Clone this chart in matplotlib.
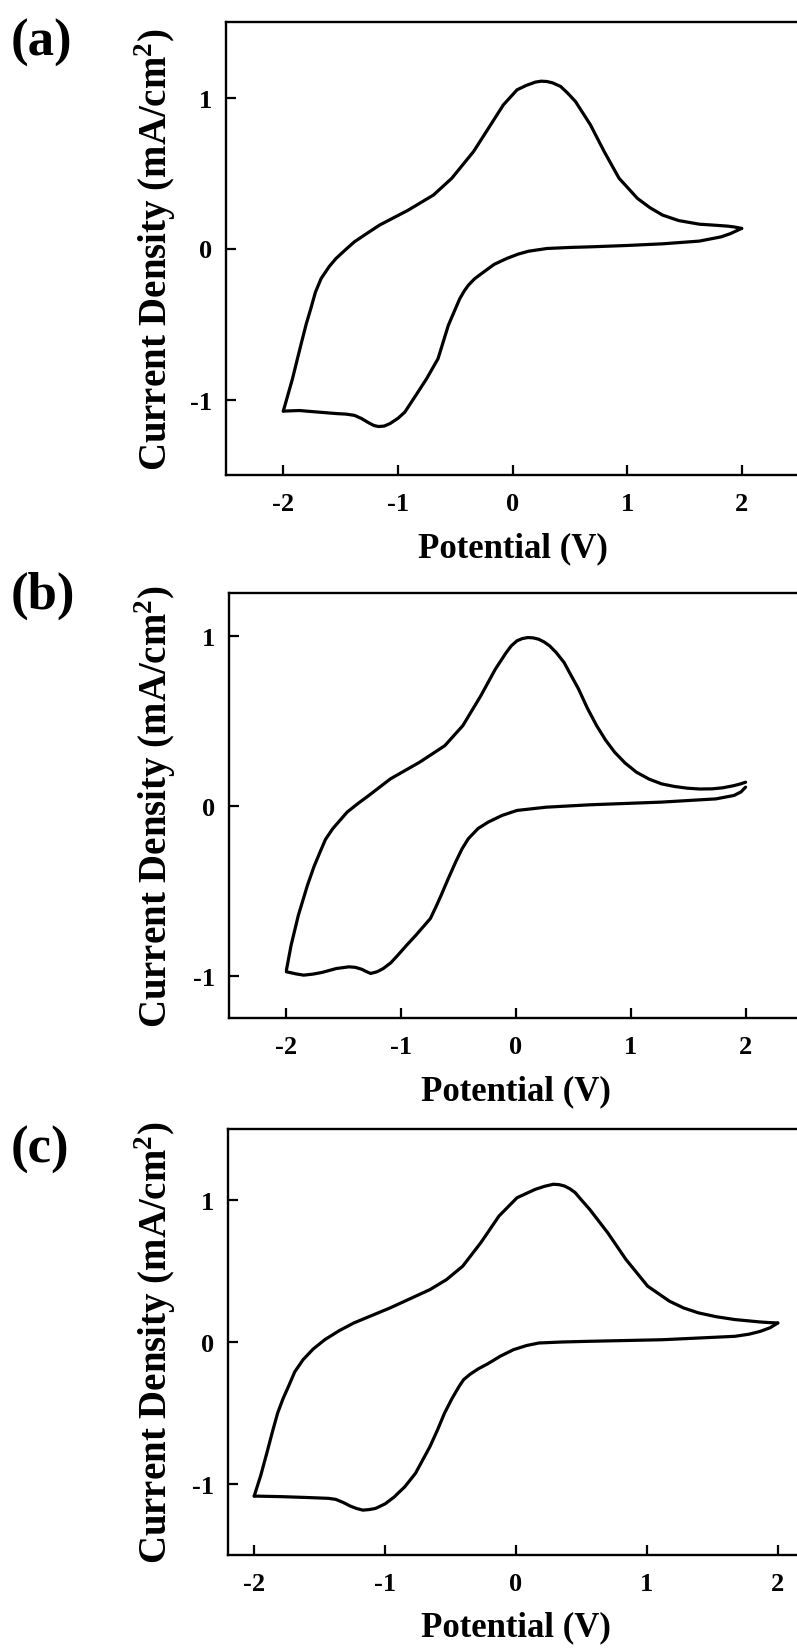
import matplotlib
matplotlib.use("Agg")
import matplotlib.pyplot as plt
from matplotlib.transforms import blended_transform_factory

plt.rcParams['font.family'] = ['Liberation Serif', 'DejaVu Serif']
plt.rcParams['font.weight'] = 'bold'
plt.rcParams['axes.unicode_minus'] = False
plt.rcParams['mathtext.fontset'] = 'custom'
plt.rcParams['mathtext.rm'] = 'Liberation Serif:bold'
plt.rcParams['mathtext.bf'] = 'Liberation Serif:bold'

# ---------------- data ----------------
# Panel (a): forward scan (lower branch) then reverse scan (upper branch)
a_fwd_V = [-2.0, -1.86, -1.75, -1.54, -1.45, -1.38, -1.32, -1.26, -1.21, -1.17, -1.12, -1.07, -1.0,
           -0.94, -0.85, -0.75, -0.65, -0.56, -0.51, -0.46, -0.42, -0.385, -0.33, -0.27,
           -0.16, -0.05, 0.05, 0.14, 0.30, 0.5, 0.68, 1.0, 1.31, 1.63, 1.82, 1.9, 2.0]
a_fwd_J = [-1.077, -1.073, -1.08, -1.093, -1.097, -1.105, -1.125, -1.152, -1.172, -1.179, -1.176, -1.16, -1.125,
           -1.084, -0.98, -0.863, -0.73, -0.509, -0.42, -0.332, -0.28, -0.243, -0.20, -0.166,
           -0.105, -0.066, -0.037, -0.018, 0.0, 0.007, 0.011, 0.02, 0.031, 0.049, 0.077, 0.098, 0.133]
a_rev_V = [2.0, 1.94, 1.88, 1.75, 1.63, 1.45, 1.31, 1.2, 1.09, 0.93, 0.80, 0.68, 0.55, 0.48,
           0.42, 0.35, 0.30, 0.25, 0.20, 0.12, 0.04, -0.08, -0.21, -0.34, -0.53, -0.69,
           -0.91, -1.16, -1.27, -1.38, -1.46, -1.54, -1.60, -1.67, -1.72, -1.76, -1.80,
           -1.84, -1.88, -1.92, -1.96, -2.0]
a_rev_J = [0.133, 0.142, 0.148, 0.155, 0.161, 0.185, 0.221, 0.27, 0.332, 0.465, 0.642, 0.819,
           0.973, 1.03, 1.073, 1.097, 1.106, 1.108, 1.102, 1.08, 1.051, 0.951, 0.796, 0.642,
           0.465, 0.354, 0.254, 0.155, 0.10, 0.044, -0.01, -0.066, -0.12, -0.199, -0.29,
           -0.398, -0.50, -0.619, -0.74, -0.863, -0.97, -1.077]

# Panel (b)
b_fwd_V = [-2.0, -1.92, -1.85, -1.77, -1.69, -1.565, -1.455, -1.40, -1.345, -1.30, -1.266,
           -1.21, -1.156, -1.09, -1.03, -0.95, -0.872, -0.746, -0.70, -0.652, -0.59, -0.526,
           -0.47, -0.416, -0.33, -0.243, -0.12, 0.009, 0.261, 0.639, 1.269, 1.742, 1.899,
           1.96, 2.0]
b_fwd_J = [-0.978, -0.99, -0.998, -0.992, -0.982, -0.959, -0.949, -0.952, -0.963, -0.978,
           -0.988, -0.978, -0.959, -0.925, -0.881, -0.82, -0.763, -0.665, -0.60, -0.528, -0.43,
           -0.333, -0.255, -0.196, -0.135, -0.098, -0.058, -0.029, -0.01, 0.004, 0.02, 0.039,
           0.059, 0.08, 0.108]
b_rev_V = [2.0, 1.95, 1.899, 1.80, 1.71, 1.60, 1.49, 1.38, 1.269, 1.16, 1.049, 0.95, 0.86,
           0.78, 0.702, 0.62, 0.545, 0.48, 0.419, 0.35, 0.293, 0.245, 0.198, 0.15, 0.104,
           0.055, 0.009, -0.04, -0.085, -0.18, -0.306, -0.463, -0.62, -0.841, -1.093, -1.282,
           -1.38, -1.471, -1.597, -1.66, -1.707, -1.76, -1.817, -1.896, -1.959, -2.0]
b_rev_J = [0.137, 0.126, 0.117, 0.104, 0.098, 0.097, 0.102, 0.112, 0.127, 0.155, 0.196, 0.25,
           0.313, 0.385, 0.47, 0.575, 0.685, 0.765, 0.841, 0.90, 0.939, 0.962, 0.978, 0.986,
           0.988, 0.982, 0.969, 0.94, 0.90, 0.802, 0.646, 0.47, 0.352, 0.254, 0.157, 0.059,
           0.01, -0.039, -0.137, -0.20, -0.274, -0.36, -0.47, -0.646, -0.822, -0.969]

# Panel (c)
c_fwd_V = [-2.0, -1.793, -1.60, -1.433, -1.378, -1.32, -1.267, -1.22, -1.17, -1.12, -1.073,
           -1.0, -0.934, -0.85, -0.768, -0.657, -0.60, -0.546, -0.49, -0.435, -0.40, -0.352,
           -0.29, -0.213, -0.12, -0.019, 0.08, 0.175, 0.35, 0.563, 1.117, 1.672, 1.78, 1.866,
           1.94, 2.0]
c_fwd_J = [-1.085, -1.089, -1.095, -1.101, -1.108, -1.13, -1.155, -1.172, -1.184, -1.18,
           -1.172, -1.14, -1.094, -1.02, -0.925, -0.736, -0.62, -0.501, -0.40, -0.313, -0.265,
           -0.228, -0.19, -0.152, -0.10, -0.054, -0.025, -0.007, 0.0, 0.005, 0.016, 0.04, 0.055,
           0.075, 0.10, 0.134]
c_rev_V = [2.0, 1.93, 1.866, 1.672, 1.53, 1.394, 1.28, 1.173, 1.006, 0.84, 0.701, 0.563,
           0.50, 0.452, 0.41, 0.369, 0.33, 0.286, 0.22, 0.147, 0.008, -0.13, -0.269, -0.407,
           -0.53, -0.657, -0.962, -1.239, -1.35, -1.461, -1.55, -1.627, -1.69, -1.738,
           -1.78, -1.821, -1.86, -1.904, -1.95, -2.0]
c_rev_J = [0.134, 0.137, 0.141, 0.158, 0.178, 0.205, 0.24, 0.287, 0.393, 0.581, 0.769, 0.934,
           1.0, 1.052, 1.08, 1.099, 1.108, 1.111, 1.097, 1.075, 1.016, 0.887, 0.699, 0.534,
           0.44, 0.369, 0.24, 0.134, 0.08, 0.016, -0.05, -0.125, -0.21, -0.313, -0.40,
           -0.501, -0.63, -0.784, -0.94, -1.085]

x_ticks = [-2, -1, 0, 1, 2]
y_ticks = [-1, 0, 1]
panel_letters = ['(a)', '(b)', '(c)']
x_label = 'Potential (V)'
y_label = r'Current Density (mA/cm$^{\mathbf{2}}$)'

# ---------------- layout ----------------
W, H = 797, 1649
fig = plt.figure(figsize=(W / 100, H / 100), dpi=100)

# (left px, right px, top px, bottom px, xlim, ylim, xlabel centre y px, letter centre y px)
panels = [
    (226, 799, 23, 476, (-2.5, 2.5), (-1.5, 1.5), 549, 43,
     a_fwd_V, a_fwd_J, a_rev_V, a_rev_J),
    (229, 803, 594, 1019, (-2.5, 2.5), (-1.25, 1.25), 1092, 596,
     b_fwd_V, b_fwd_J, b_rev_V, b_rev_J),
    (228, 804, 1130, 1556, (-2.2, 2.2), (-1.5, 1.5), 1628, 1150,
     c_fwd_V, c_fwd_J, c_rev_V, c_rev_J),
]

for i, (l, r, t, b, xl, yl, xlab_y, let_y, fV, fJ, rV, rJ) in enumerate(panels):
    ax = fig.add_axes([l / W, 1 - b / H, (r - l) / W, (b - t) / H])
    ax.plot(fV, fJ, color='black', lw=2.3, solid_joinstyle='round', solid_capstyle='round')
    ax.plot(rV, rJ, color='black', lw=2.3, solid_joinstyle='round', solid_capstyle='round')
    ax.set_xlim(*xl)
    ax.set_ylim(*yl)
    ax.set_xticks(x_ticks)
    ax.set_yticks(y_ticks)
    ax.tick_params(direction='in', length=7, width=1.6, labelsize=19, pad=10)
    ax.tick_params(axis='x', pad=12)
    for s in ['left', 'bottom', 'top']:
        ax.spines[s].set_linewidth(1.7)
    ax.spines['right'].set_visible(False)
    for lab in ax.get_xticklabels() + ax.get_yticklabels():
        lab.set_fontweight('bold')

    ax.set_xlabel(x_label, fontsize=25, fontweight='bold', va='center')
    ax.xaxis.set_label_coords(0.5, 1 - xlab_y / H,
                              transform=blended_transform_factory(ax.transAxes, fig.transFigure))
    ax.set_ylabel(y_label, fontsize=28, fontweight='bold')
    ax.yaxis.set_label_coords(178 / W, 0.5,
                              transform=blended_transform_factory(fig.transFigure, ax.transAxes))

    fig.text(11 / W, 1 - let_y / H, panel_letters[i], fontsize=38, fontweight='bold',
             ha='left', va='center')

fig.savefig('out.png', dpi=100)
